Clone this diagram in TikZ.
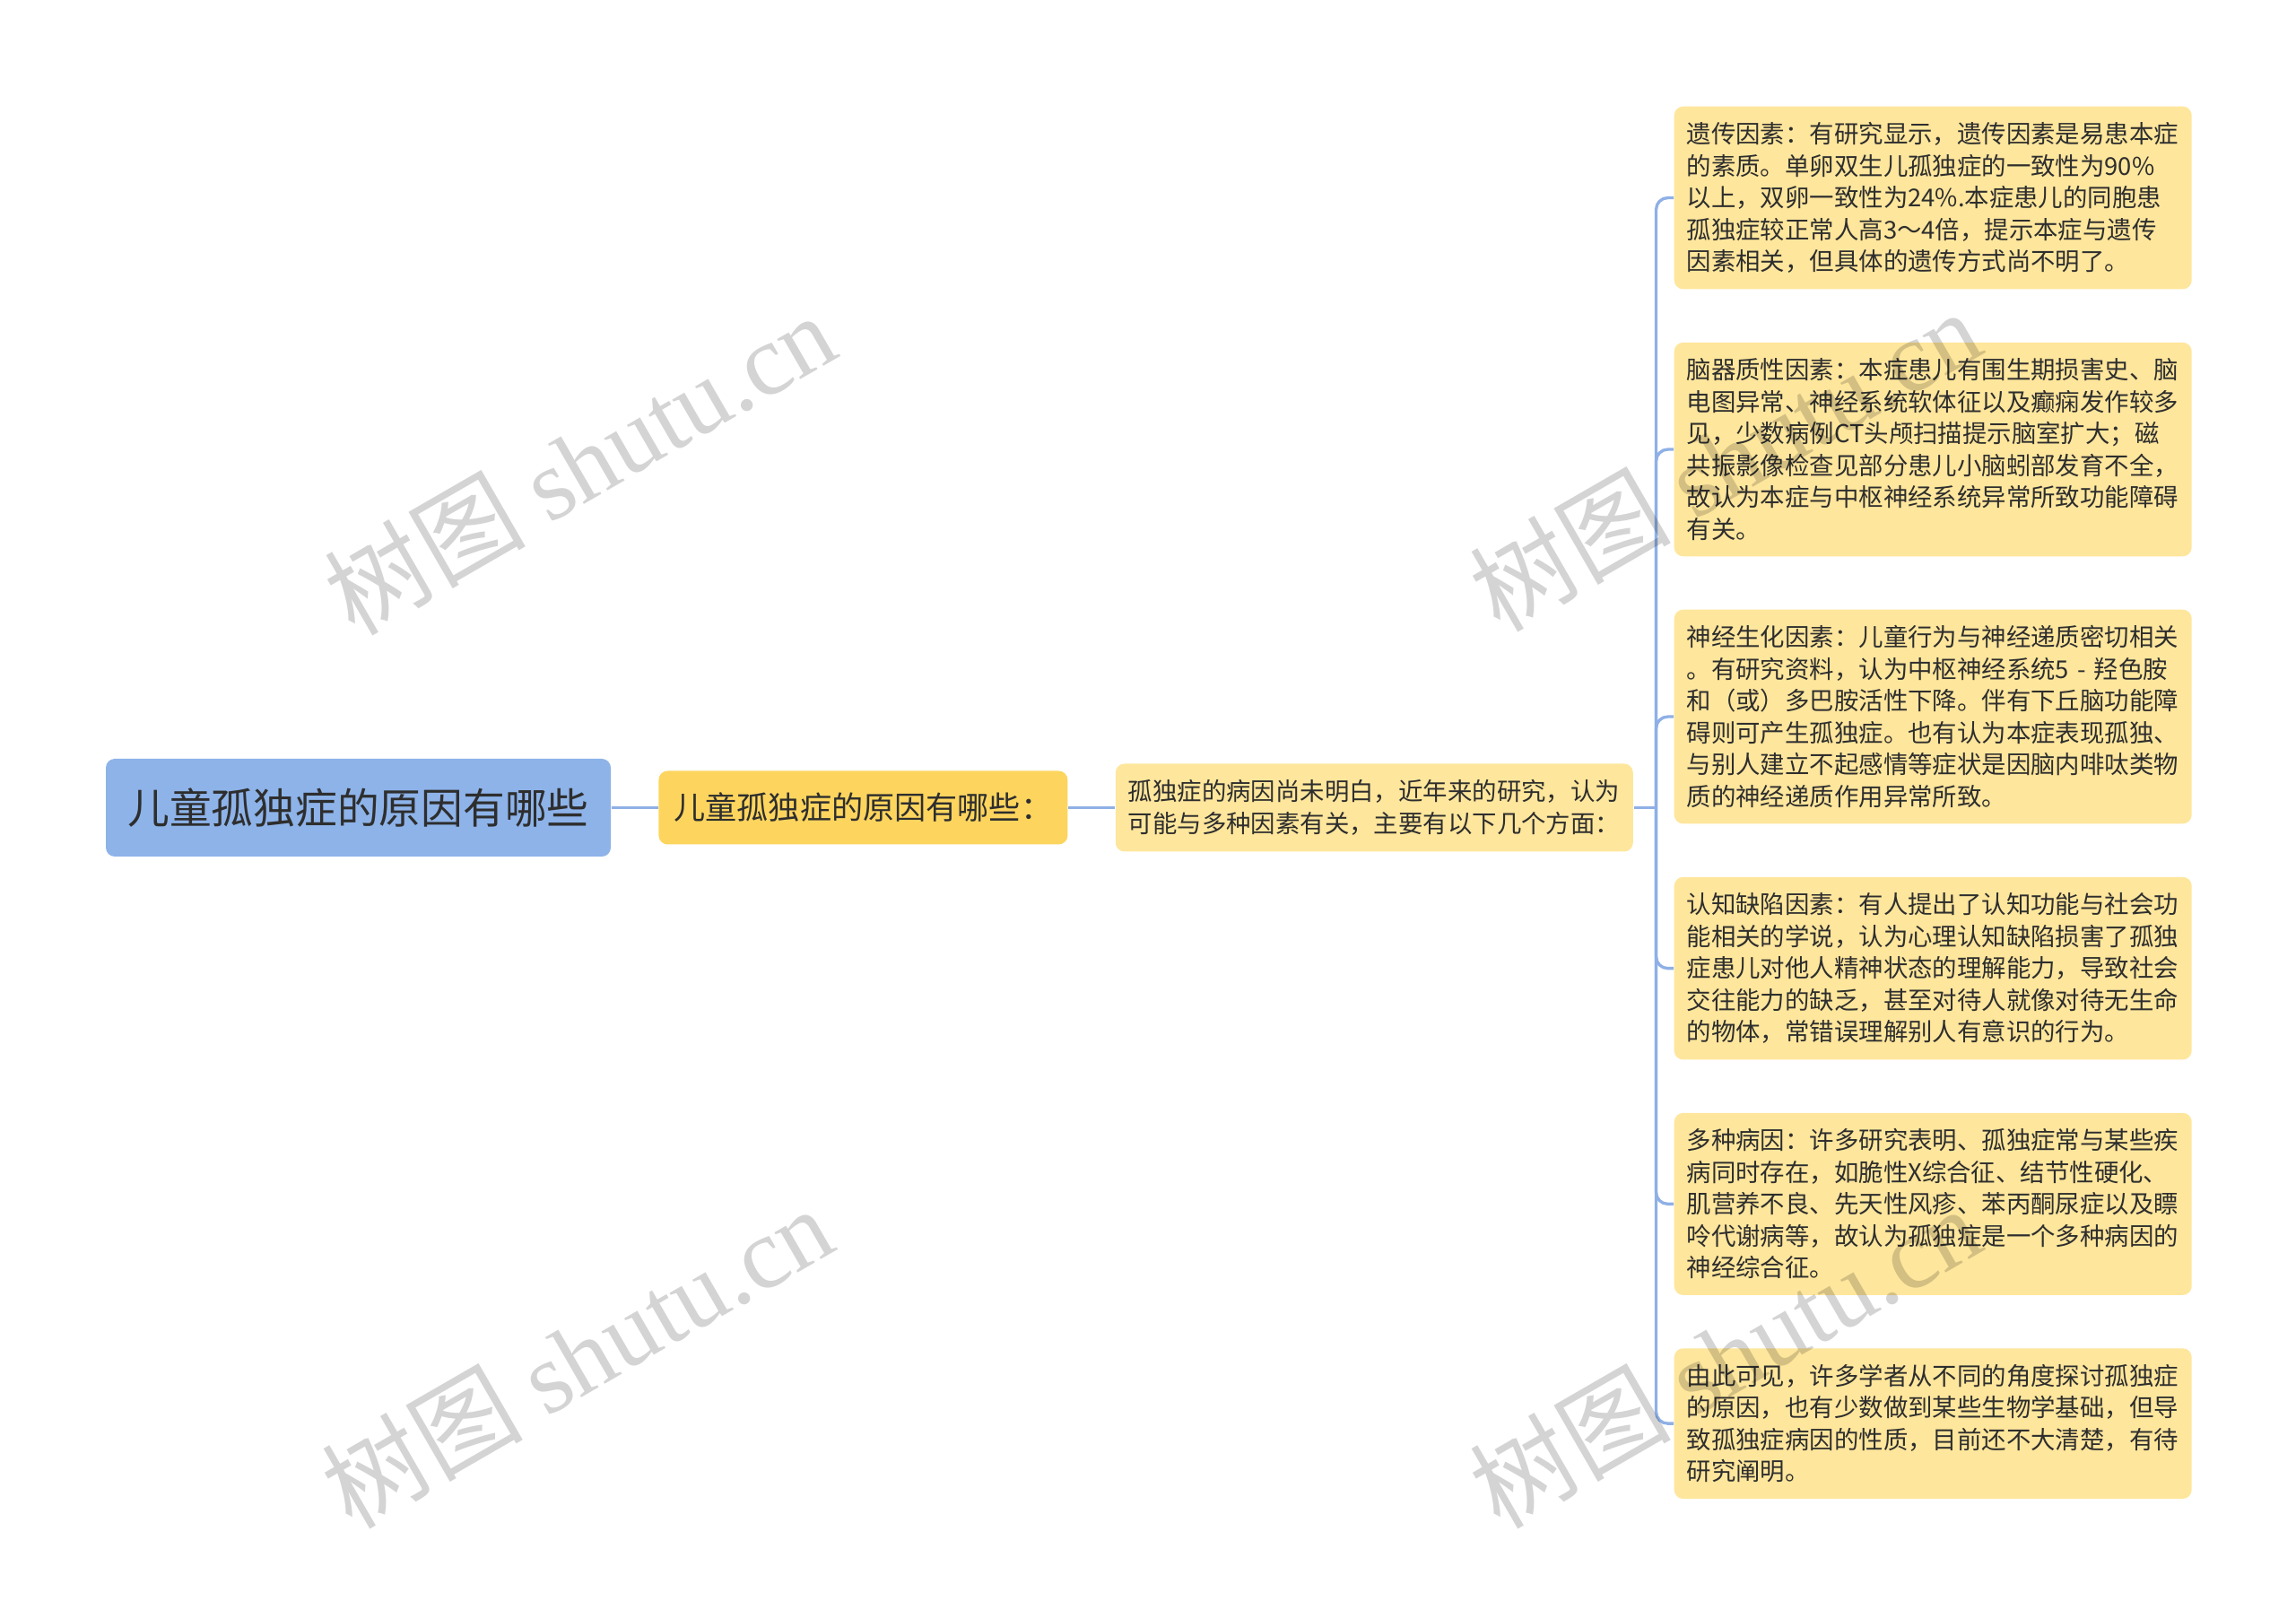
\documentclass[tikz,border=0pt]{standalone}
\usepackage{fontspec}
\setmainfont{Noto Sans CJK SC}
\newfontfamily\wmserif{Liberation Serif}
\usetikzlibrary{positioning}
\definecolor{rootblue}{HTML}{8DB3E9}
\definecolor{gold}{HTML}{FDD55E}
\definecolor{paleyellow}{HTML}{FEE69C}
\definecolor{linkblue}{HTML}{8FB0E6}
\definecolor{ink}{HTML}{2E2E2E}

\begin{document}
\begin{tikzpicture}[
  box/.style={rounded corners=0.1cm, text=ink, inner sep=0pt},
  rootbox/.style={box, fill=rootblue, minimum width=5.63cm, minimum height=1.09cm,
    font=\fontsize{13.3pt}{16pt}\selectfont},
  subbox/.style={box, fill=gold, minimum width=4.56cm, minimum height=0.82cm,
    font=\fontsize{10pt}{12pt}\selectfont},
  leafbox/.style={box, fill=paleyellow, text width=5.49cm, align=left,
    inner xsep=0.14cm, inner ysep=0.178cm, font=\fontsize{7.8pt}{10.1pt}\selectfont},
  link/.style={linkblue, line width=0.95pt},
  watermark/.style={rotate=30, text=black, text opacity=0.17,
    font=\fontsize{32pt}{32pt}\selectfont}
]
  \useasboundingbox (0,0) rectangle (25.6,-17.85);

  \node[rootbox] (root) at (3.995,-9.005) {儿童孤独症的原因有哪些};
  \node[subbox, right=0.52cm of root] (cause) {儿童孤独症的原因有哪些：};
  \node[leafbox, right=0.52cm of cause, minimum height=0.98cm] (intro)
    {孤独症的病因尚未明白，近年来的研究，认为\\可能与多种因素有关，主要有以下几个方面：};

  \node[leafbox, anchor=north west] (leaf1) at (18.66,-1.18)
    {遗传因素：有研究显示，遗传因素是易患本症\\的素质。单卵双生儿孤独症的一致性为90\%\\以上，双卵一致性为24\%.本症患儿的同胞患\\孤独症较正常人高3～4倍，提示本症与遗传\\因素相关，但具体的遗传方式尚不明了。};
  \node[leafbox, below=0.58cm of leaf1] (leaf2)
    {脑器质性因素：本症患儿有围生期损害史、脑\\电图异常、神经系统软体征以及癫痫发作较多\\见，少数病例CT头颅扫描提示脑室扩大；磁\\共振影像检查见部分患儿小脑蚓部发育不全，\\故认为本症与中枢神经系统异常所致功能障碍\\有关。};
  \node[leafbox, below=0.58cm of leaf2] (leaf3)
    {神经生化因素：儿童行为与神经递质密切相关\\。有研究资料，认为中枢神经系统5 - 羟色胺\\和（或）多巴胺活性下降。伴有下丘脑功能障\\碍则可产生孤独症。也有认为本症表现孤独、\\与别人建立不起感情等症状是因脑内啡呔类物\\质的神经递质作用异常所致。};
  \node[leafbox, below=0.58cm of leaf3] (leaf4)
    {认知缺陷因素：有人提出了认知功能与社会功\\能相关的学说，认为心理认知缺陷损害了孤独\\症患儿对他人精神状态的理解能力，导致社会\\交往能力的缺乏，甚至对待人就像对待无生命\\的物体，常错误理解别人有意识的行为。};
  \node[leafbox, below=0.58cm of leaf4] (leaf5)
    {多种病因：许多研究表明、孤独症常与某些疾\\病同时存在，如脆性X综合征、结节性硬化、\\肌营养不良、先天性风疹、苯丙酮尿症以及瞟\\呤代谢病等，故认为孤独症是一个多种病因的\\神经综合征。};
  \node[leafbox, below=0.58cm of leaf5] (leaf6)
    {由此可见，许多学者从不同的角度探讨孤独症\\的原因，也有少数做到某些生物学基础，但导\\致孤独症病因的性质，目前还不大清楚，有待\\研究阐明。};

  % connectors
  \coordinate (fork) at ([xshift=0.25cm]intro.east);
  \draw[link] (root.east) -- (cause.west);
  \draw[link] (cause.east) -- (intro.west);
  \draw[link] (intro.east) -- (fork);
  \foreach \i in {1,...,6}
    \draw[link, rounded corners=0.13cm] (fork) |- (leaf\i.west);

  % watermarks
  \foreach \x/\y [count=\k] in {6.46/-5.16, 19.23/-5.12, 6.43/-15.12, 19.23/-15.12}
    \node[watermark] (wm\k) at (\x,\y) {树图 {\wmserif shutu.cn}};
\end{tikzpicture}
\end{document}
